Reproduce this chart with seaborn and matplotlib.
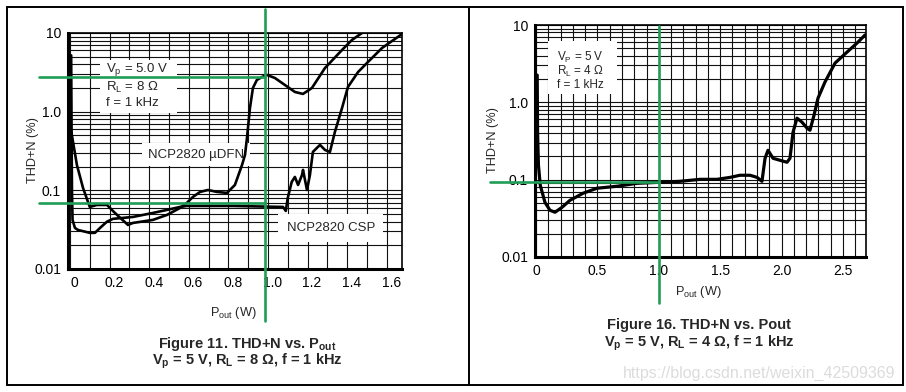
import matplotlib
matplotlib.use("Agg")
import matplotlib.pyplot as plt
import seaborn as sns
import pandas as pd
from matplotlib.ticker import LogLocator, NullFormatter, FixedLocator, FixedFormatter, MultipleLocator
from matplotlib.patches import Rectangle
from matplotlib.lines import Line2D
from matplotlib.transforms import ScaledTranslation

# ---------------- data ----------------
# Figure 11 (RL = 8 ohm)
csp_p = [0.006, 0.008, 0.010, 0.013, 0.025, 0.04, 0.10, 0.126, 0.152, 0.187, 0.217, 0.318, 0.419,
         0.49, 0.556, 0.59, 0.823, 1.076, 1.09, 1.10, 1.12, 1.136, 1.152, 1.172, 1.177, 1.197,
         1.212, 1.227, 1.247, 1.263, 1.288, 1.313, 1.338, 1.374, 1.404, 1.455, 1.505, 1.576, 1.677]
csp_thd = [5.2, 0.6, 0.1, 0.042, 0.0333, 0.0314, 0.0288, 0.0288, 0.0333, 0.040, 0.0434, 0.0459,
           0.0516, 0.0564, 0.0615, 0.0633, 0.0633, 0.0615, 0.0547, 0.080, 0.128, 0.148, 0.117,
           0.157, 0.182, 0.101, 0.157, 0.308, 0.346, 0.378, 0.326, 0.308, 0.552, 1.11, 2.06,
           3.19, 4.28, 6.44, 9.7]

dfn_p = [0.007, 0.035, 0.066, 0.10, 0.136, 0.187, 0.227, 0.293, 0.318, 0.419, 0.49, 0.556, 0.59,
         0.621, 0.657, 0.697, 0.742, 0.793, 0.833, 0.869, 0.884, 0.894, 0.909, 0.924, 0.944,
         0.970, 0.995, 1.035, 1.086, 1.136, 1.177, 1.222, 1.288, 1.374, 1.424, 1.475]
dfn_thd = [0.55, 0.210, 0.107, 0.0615, 0.0652, 0.0652, 0.0516, 0.0363, 0.0385, 0.0421, 0.0487,
           0.0597, 0.0691, 0.0824, 0.0955, 0.101, 0.0955, 0.0927, 0.117, 0.210, 0.282, 0.464,
           1.11, 2.0, 2.53, 2.76, 2.93, 2.68, 2.18, 1.78, 1.68, 2.0, 3.59, 6.08, 8.15, 10.0]

# Figure 16 (RL = 4 ohm)
r4_p = [0.010, 0.013, 0.020, 0.035, 0.073, 0.114, 0.155, 0.212, 0.277, 0.383, 0.497, 0.660, 0.822,
        0.993, 1.173, 1.336, 1.474, 1.580, 1.661, 1.743, 1.800, 1.840, 1.865, 1.889, 1.930, 1.987,
        2.044, 2.068, 2.093, 2.125, 2.166, 2.207, 2.231, 2.264, 2.296, 2.353, 2.435, 2.533, 2.614,
        2.679]
r4_thd = [2.25, 0.411, 0.154, 0.0845, 0.0509, 0.0402, 0.0379, 0.0439, 0.0541, 0.0667, 0.0775,
          0.0822, 0.0897, 0.0924, 0.0952, 0.101, 0.101, 0.107, 0.114, 0.114, 0.107, 0.0952, 0.189,
          0.240, 0.189, 0.178, 0.168, 0.189, 0.411, 0.624, 0.554, 0.463, 0.436, 0.683, 1.13, 1.83,
          3.22, 4.47, 5.84, 7.42]

left_xticks = [0, 0.2, 0.4, 0.6, 0.8, 1.0, 1.2, 1.4, 1.6]
left_xlabels = ["0", "0.2", "0.4", "0.6", "0.8", "1.0", "1.2", "1.4", "1.6"]
right_xticks = [0, 0.5, 1.0, 1.5, 2.0, 2.5]
right_xlabels = ["0", "0.5", "1.0", "1.5", "2.0", "2.5"]
yticks = [0.01, 0.1, 1.0, 10.0]
ylabels = ["0.01", "0.1", "1.0", "10"]

# green read-off guide lines
left_guide_x = 0.985
left_guide_y = [2.76, 0.069]
right_guide_x = 1.0
right_guide_y = [0.0925]

# ---------------- style ----------------
sns.set_style("white")
plt.rcParams["font.family"] = ["Liberation Sans", "DejaVu Sans"]
plt.rcParams["mathtext.fontset"] = "custom"
plt.rcParams["mathtext.rm"] = "Liberation Sans"
plt.rcParams["mathtext.it"] = "Liberation Sans"
plt.rcParams["mathtext.bf"] = "Liberation Sans:bold"

FS = 10
GREEN = "#1f9e55"
W, H = 906, 392

fig = plt.figure(figsize=(9.06, 3.92), dpi=100)


def px_rect(x0, y0, x1, y1):
    return [x0 / W, 1 - y1 / H, (x1 - x0) / W, (y1 - y0) / H]


axL = fig.add_axes(px_rect(68, 33, 402, 269))
axR = fig.add_axes(px_rect(535, 25, 866, 257))

dfL = pd.concat([
    pd.DataFrame({"P": csp_p, "THD": csp_thd, "dev": "CSP"}),
    pd.DataFrame({"P": dfn_p, "THD": dfn_thd, "dev": "uDFN"}),
])
dfR = pd.DataFrame({"P": r4_p, "THD": r4_thd})

for dev, d in dfL.groupby("dev"):
    sns.lineplot(data=d, x="P", y="THD", ax=axL, color="black", lw=1.9, sort=False,
                 estimator=None, zorder=5)
sns.lineplot(data=dfR, x="P", y="THD", ax=axR, color="black", lw=2.3, sort=False,
             estimator=None, zorder=5)


def style_axes(ax, xlim, xticks, xlabels, xminor):
    ax.set_yscale("log")
    ax.set_ylim(0.01, 10)
    ax.set_xlim(*xlim)
    ax.xaxis.set_major_locator(FixedLocator(xticks))
    ax.xaxis.set_major_formatter(FixedFormatter(xlabels))
    ax.xaxis.set_minor_locator(MultipleLocator(xminor))
    ax.yaxis.set_major_locator(FixedLocator(yticks))
    ax.yaxis.set_major_formatter(FixedFormatter(ylabels))
    ax.yaxis.set_minor_locator(LogLocator(base=10, subs=range(2, 10)))
    ax.yaxis.set_minor_formatter(NullFormatter())
    ax.grid(True, which="both", color="#111111", lw=0.8)
    ax.set_axisbelow(True)
    ax.tick_params(which="both", length=0, labelsize=FS, pad=5, colors="black")
    for s in ["top", "right"]:
        ax.spines[s].set_linewidth(1.2)
        ax.spines[s].set_color("black")
    for s in ["left", "bottom"]:
        ax.spines[s].set_linewidth(2.2)
        ax.spines[s].set_color("black")
    ax.set_ylabel("THD+N (%)", fontsize=9.2)
    ax.set_xlabel(r"P$_{\mathrm{out}}$ (W)", fontsize=9.2)
    ax.xaxis.label.set_va("center")
    ax.yaxis.label.set_va("center")


style_axes(axL, (-0.01, 1.677), left_xticks, left_xlabels, 0.1)
style_axes(axR, (-0.008, 2.687), right_xticks, right_xlabels, 0.1)

# the printed tick labels of figure 11 sit slightly right of their grid lines
shift = ScaledTranslation(4.5 / 100, 0, fig.dpi_scale_trans)
for lab in axL.get_xticklabels():
    lab.set_transform(lab.get_transform() + shift)

axL.yaxis.set_label_coords(-0.105, 0.504)
axL.xaxis.set_label_coords(0.495, -0.185)
axR.yaxis.set_label_coords(-0.128, 0.504)
axR.xaxis.set_label_coords(0.493, -0.152)

# ---------------- annotation boxes ----------------
# left condition box
axL.add_patch(Rectangle(((100 - 68) / 334, 1 - (113 - 33) / 236), 77 / 334, 53 / 236,
                        transform=axL.transAxes, facecolor="white", edgecolor="none", zorder=3))
for i, t in enumerate([r"V$_{\mathrm{p}}$ = 5.0 V", r"R$_{\mathrm{L}}$ = 8 Ω", "f = 1 kHz"]):
    axL.text((106 - 68) / 334, 1 - ([70, 87, 103][i] - 33) / 236, t, transform=axL.transAxes,
             fontsize=9.5, va="center", ha="left", zorder=4)

axL.text(0.636, 0.282, "NCP2820 µDFN", fontsize=9.5, ha="center", va="center", zorder=4,
         bbox=dict(facecolor="white", edgecolor="none", pad=4))
axL.text(1.318, 0.0333, "NCP2820 CSP", fontsize=9.5, ha="center", va="center", zorder=4,
         bbox=dict(facecolor="white", edgecolor="none", pad=6))

# right condition box
axR.add_patch(Rectangle(((548 - 535) / 331, 1 - (94 - 25) / 232), 69 / 331, 53 / 232,
                        transform=axR.transAxes, facecolor="white", edgecolor="none", zorder=3))
for i, t in enumerate([r"V$_{\mathrm{P}}$ = 5 V", r"R$_{\mathrm{L}}$ = 4 Ω", "f = 1 kHz"]):
    axR.text((557 - 535) / 331, 1 - ([57, 71, 84.5][i] - 25) / 232, t, transform=axR.transAxes,
             fontsize=8.5, va="center", ha="left", zorder=4)

# ---------------- green guide lines ----------------
axL.plot([left_guide_x, left_guide_x], [1.102, -0.22], transform=axL.get_xaxis_transform(),
         color=GREEN, lw=1.9, clip_on=False, zorder=10)
for gy in left_guide_y:
    axL.plot([-0.157, left_guide_x], [gy, gy], color=GREEN, lw=1.9, clip_on=False, zorder=10)

axR.plot([right_guide_x, right_guide_x], [0.996, -0.198], transform=axR.get_xaxis_transform(),
         color=GREEN, lw=1.9, clip_on=False, zorder=10)
for gy in right_guide_y:
    axR.plot([-0.375, right_guide_x], [gy, gy], color=GREEN, lw=1.9, clip_on=False, zorder=10)

# ---------------- captions ----------------
CFS = 10.5
fig.text(247 / W, 1 - 344 / H, r"Figure 11. THD+N vs. P$_{\mathbf{out}}$", ha="center",
         va="center", fontsize=CFS, fontweight="bold")
fig.text(247 / W, 1 - 361 / H, r"V$_{\mathbf{p}}$ = 5 V, R$_{\mathbf{L}}$ = 8 Ω, f = 1 kHz",
         ha="center", va="center", fontsize=CFS, fontweight="bold")
fig.text(699 / W, 1 - 325 / H, "Figure 16. THD+N vs. Pout", ha="center", va="center",
         fontsize=CFS, fontweight="bold")
fig.text(699 / W, 1 - 343 / H, r"V$_{\mathbf{p}}$ = 5 V, R$_{\mathbf{L}}$ = 4 Ω, f = 1 kHz",
         ha="center", va="center", fontsize=CFS, fontweight="bold")

fig.text(895 / W, 1 - 373 / H, "https://blog.csdn.net/weixin_42509369", ha="right",
         va="center", fontsize=11.5, color="#dcdcdc")

# ---------------- panel frame ----------------
fig.add_artist(Rectangle((7 / W, 1 - 385 / H), (903 - 7) / W, (385 - 7) / H,
                         transform=fig.transFigure, fill=False, edgecolor="black", lw=1.4))
fig.add_artist(Line2D([469 / W, 469 / W], [1 - 385 / H, 1 - 7 / H], transform=fig.transFigure,
                      color="black", lw=1.4))

fig.savefig("out.png", dpi=100, facecolor="white")
